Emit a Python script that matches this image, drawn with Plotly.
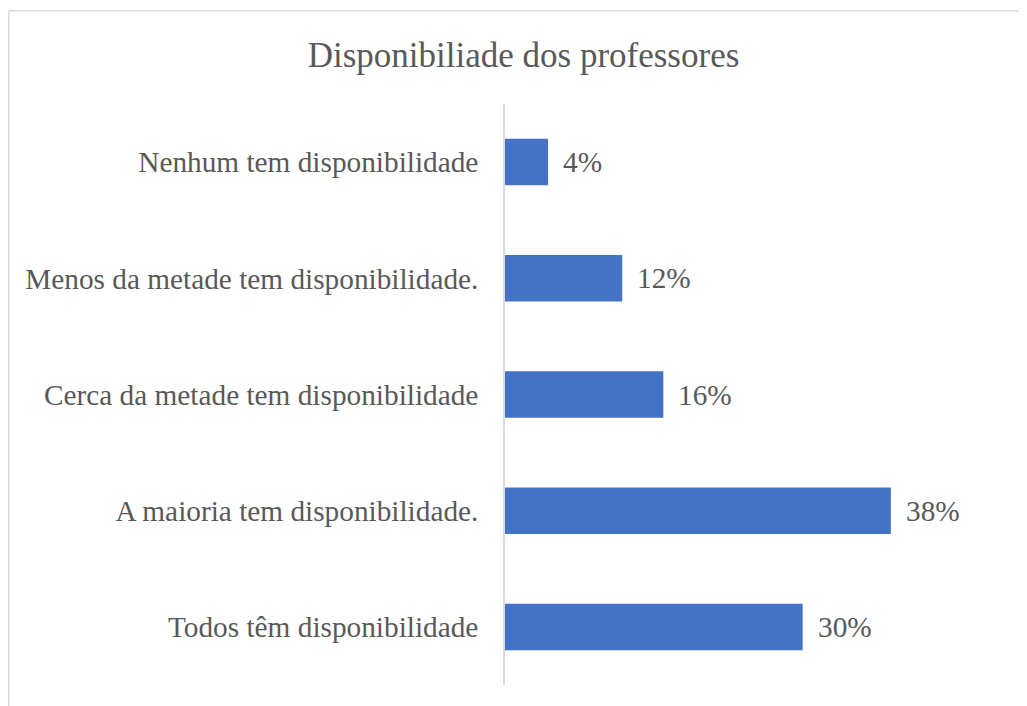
import plotly.graph_objects as go

categories = [
    "Todos têm disponibilidade",
    "A maioria tem disponibilidade.",
    "Cerca da metade tem disponibilidade",
    "Menos da metade tem disponibilidade.",
    "Nenhum tem disponibilidade",
]
values = [0.297, 0.385, 0.158, 0.117, 0.043]
labels = ["30%", "38%", "16%", "12%", "4%"]
title_text = "Disponibiliade dos professores"

FONT = "Liberation Serif, Times New Roman, serif"
GREY = "#595959"
LINE = "#D9D9D9"

# the page body has an 8px default margin; figure is sized/offset to compensate
OFF = 8
W, H = 1027 - OFF, 706 - OFF
L, R, T, B = 505 - OFF, 71, 104 - OFF, 706 - OFF - (685 - OFF)
pw = W - L - R
ph = H - T - B

fig = go.Figure()
fig.add_trace(go.Bar(
    x=values, y=categories, orientation="h",
    marker=dict(color="#4472C4", line=dict(width=0)),
    hoverinfo="skip",
))

for v, c, t in zip(values, categories, labels):
    fig.add_annotation(x=v, y=c, text=t, showarrow=False, xanchor="left",
                       xshift=13, font=dict(family=FONT, size=29.3, color=GREY))

def px_x(p):
    return (p - OFF - L) / pw

def px_y(p):
    return (H - B - (p - OFF)) / ph

# chart-area frame (top and left edges visible; right/bottom run off the page)
fig.add_shape(type="line", xref="paper", yref="paper",
              x0=px_x(8.75), x1=px_x(1060), y0=px_y(10.75), y1=px_y(10.75),
              line=dict(color=LINE, width=1.5))
fig.add_shape(type="line", xref="paper", yref="paper",
              x0=px_x(8.75), x1=px_x(8.75), y0=px_y(10.75), y1=px_y(720),
              line=dict(color=LINE, width=1.5))

fig.update_layout(
    width=W, height=H,
    margin=dict(l=L, r=R, t=T, b=B, pad=0, autoexpand=False),
    paper_bgcolor="white", plot_bgcolor="white",
    bargap=0.6,
    showlegend=False,
    title=dict(text=title_text, x=(523.5 - OFF) / W, xanchor="center", xref="container",
               y=1 - (55 - OFF) / H, yanchor="middle", yref="container",
               font=dict(family=FONT, size=35, color=GREY)),
    xaxis=dict(range=[0, 0.45], showgrid=False, zeroline=False, showticklabels=False,
               showline=False, fixedrange=True, automargin=False),
    yaxis=dict(showline=True, linecolor=LINE, linewidth=1.5, showgrid=False,
               ticks="", ticklabelstandoff=19, automargin=False,
               tickfont=dict(family=FONT, size=29.3, color=GREY), fixedrange=True),
)

fig.write_html("out.html")
